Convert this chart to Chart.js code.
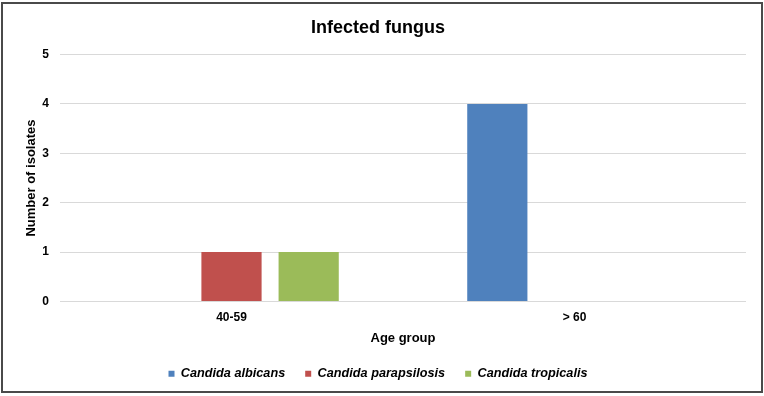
<!DOCTYPE html>
<html>
<head>
<meta charset="utf-8">
<script src="https://cdn.jsdelivr.net/npm/chart.js@4.4.0/dist/chart.umd.min.js"></script>
<style>
    html, body { margin: 0; padding: 0; background: #fff; }
    #wrap { position: relative; width: 764px; height: 396px; }
    #frame {
        position: absolute; left: 1px; top: 2px; width: 762px; height: 391px;
        box-sizing: border-box; border: 2px solid #4a4a4a; pointer-events: none;
    }
</style>
</head>
<body>
<div id="wrap">
    <canvas id="chart" width="764" height="396"></canvas>
    <div id="frame"></div>
</div>
<script>
// Chart data
const ageGroups = ['40-59', '> 60'];
const albicans = [0, 4];
const parapsilosis = [1, 0];
const tropicalis = [1, 0];
const yTicks = [0, 1, 2, 3, 4, 5];

const fontFamily = '"Liberation Sans", Arial, sans-serif';

const ctx = document.getElementById('chart').getContext('2d');

new Chart(ctx, {
    type: 'bar',
    data: {
        labels: ageGroups,
        datasets: [
            { label: 'Candida albicans', data: albicans, backgroundColor: '#4F81BD' },
            { label: 'Candida parapsilosis', data: parapsilosis, backgroundColor: '#C0504D' },
            { label: 'Candida tropicalis', data: tropicalis, backgroundColor: '#9BBB59' }
        ]
    },
    options: {
        responsive: false,
        animation: false,
        devicePixelRatio: 1,
        layout: { padding: { left: 10, right: 18, top: 0, bottom: 6 } },
        datasets: {
            bar: { categoryPercentage: 0.675, barPercentage: 0.78 }
        },
        scales: {
            x: {
                afterFit: (axis) => { axis.height = 45.8; },
                grid: { display: false, drawTicks: false },
                border: { display: false },
                ticks: {
                    color: '#000',
                    padding: 9,
                    font: { family: fontFamily, size: 12, weight: 'bold' }
                },
                title: {
                    display: true,
                    text: 'Age group',
                    color: '#000',
                    padding: { top: 0, bottom: 1 },
                    font: { family: fontFamily, size: 13, weight: 'bold' }
                }
            },
            y: {
                min: 0,
                max: 5,
                afterBuildTicks: (axis) => { axis.ticks = yTicks.map(v => ({ value: v })); },
                afterFit: (axis) => { axis.width = 50; },
                grid: { color: '#d9d9d9', lineWidth: 1, drawTicks: false },
                border: { display: false },
                ticks: {
                    color: '#000',
                    padding: 11,
                    font: { family: fontFamily, size: 12, weight: 'bold' }
                },
                title: {
                    display: true,
                    text: 'Number of isolates',
                    color: '#000',
                    padding: { top: 14, bottom: 0 },
                    font: { family: fontFamily, size: 13, weight: 'bold' }
                }
            }
        },
        plugins: {
            title: {
                display: true,
                text: 'Infected fungus',
                color: '#000',
                padding: { top: 17, bottom: 16 },
                font: { family: fontFamily, size: 18, weight: 'bold' }
            },
            legend: {
                display: true,
                position: 'bottom',
                labels: {
                    color: '#000',
                    boxWidth: 6,
                    boxHeight: 6,
                    padding: 20,
                    font: { family: fontFamily, size: 12.7, weight: 'bold', style: 'italic' }
                }
            },
            tooltip: { enabled: false }
        }
    }
});
</script>
</body>
</html>
